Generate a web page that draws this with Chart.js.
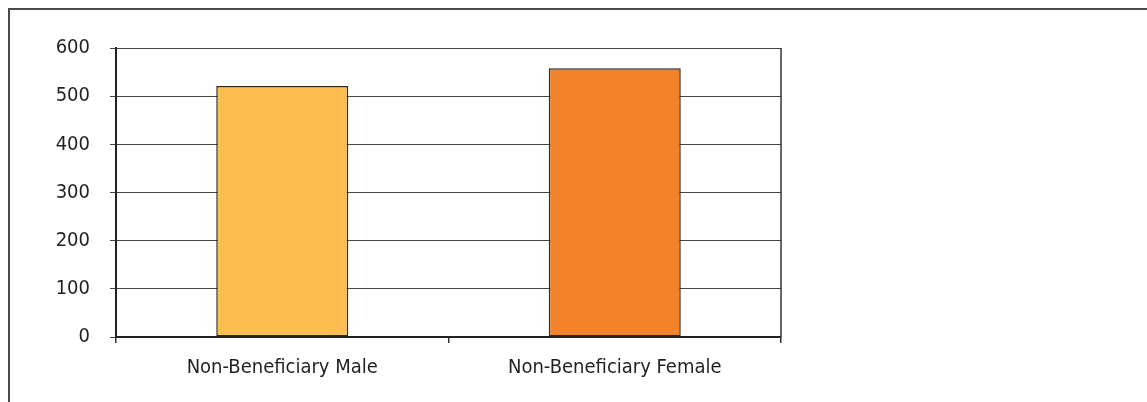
<!DOCTYPE html>
<html>
<head>
<meta charset="utf-8">
<script src="https://cdn.jsdelivr.net/npm/chart.js@4.4.1/dist/chart.umd.min.js"></script>
<style>
  html, body { margin: 0; padding: 0; background: #fff; }
  #wrap { position: relative; width: 1147px; height: 402px; overflow: hidden; }
  #frame { position: absolute; left: 8px; top: 8px; width: 1200px; height: 500px;
           border-top: 2px solid #4a4a4a; border-left: 2px solid #4a4a4a; }
  canvas { position: absolute; left: 0; top: 0; }
</style>
</head>
<body>
<div id="wrap">
  <div id="frame"></div>
  <canvas id="c" width="1147" height="402"></canvas>
</div>
<script>
const categories = ['Non-Beneficiary Male', 'Non-Beneficiary Female'];
const values = [521, 558];
const barColors = ['#FDBE4F', '#F3832B'];
const yTicks = [0, 100, 200, 300, 400, 500, 600];

const FONT = { family: '"Liberation Sans Narrow", "DejaVu Sans Condensed", Arial, sans-serif', size: 20 };
const INK = '#231f20';

// right-hand edge of the plot box
const plotFrame = {
  id: 'plotFrame',
  afterDatasetsDraw(chart) {
    const { ctx, chartArea: a } = chart;
    ctx.save();
    ctx.strokeStyle = '#333';
    ctx.lineWidth = 1.5;
    ctx.beginPath();
    ctx.moveTo(a.right, a.top);
    ctx.lineTo(a.right, a.bottom);
    ctx.stroke();
    ctx.restore();
  }
};

new Chart(document.getElementById('c'), {
  type: 'bar',
  data: {
    labels: categories,
    datasets: [{
      data: values,
      backgroundColor: barColors,
      borderColor: '#2a2a2a',
      borderWidth: 1.5,
      borderSkipped: false,
      categoryPercentage: 1,
      barPercentage: 0.397
    }]
  },
  options: {
    responsive: false,
    animation: false,
    devicePixelRatio: 1,
    layout: { padding: { left: 0, top: 48, right: 366, bottom: 0 } },
    plugins: { legend: { display: false }, tooltip: { enabled: false } },
    scales: {
      x: {
        offset: true,
        grid: { offset: true, drawOnChartArea: false, drawTicks: true, tickLength: 6, color: '#333', lineWidth: 1.5 },
        border: { display: true, color: '#222', width: 2 },
        ticks: { color: INK, font: FONT, padding: 13 },
        afterFit(scale) { scale.height = 65; }
      },
      y: {
        min: 0, max: 600,
        afterBuildTicks(scale) { scale.ticks = yTicks.map(v => ({ value: v })); },
        grid: { color: '#444', lineWidth: 1, drawTicks: true, tickLength: 6 },
        border: { display: true, color: '#222', width: 2 },
        ticks: { color: INK, font: FONT, padding: 20 },
        afterFit(scale) { scale.width = 116; }
      }
    }
  },
  plugins: [plotFrame]
});
</script>
</body>
</html>
